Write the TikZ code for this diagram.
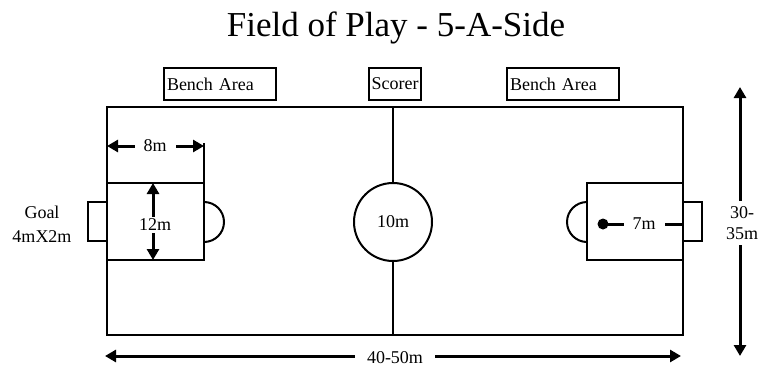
\documentclass[tikz,border=0pt]{standalone}
\usepackage{fontspec}
\setmainfont{Liberation Serif}
\usetikzlibrary{arrows.meta}
\tikzset{
  pitch/.style={line width=2pt},
  dimarrow/.style={line width=3pt,{Triangle[length=11pt,width=12pt]}-{Triangle[length=11pt,width=12pt]}},
  dimtext/.style={fill=white,inner sep=2pt,font=\fontsize{18}{20}\selectfont},
  benchbox/.style={draw,line width=2pt,minimum height=32pt,inner xsep=3pt,font=\fontsize{18}{20}\selectfont}
}
\begin{document}
\begin{tikzpicture}[x=1pt,y=-1pt]
\useasboundingbox (0,0) rectangle (761,367);
% title and boxes above the pitch
\node[anchor=base,font=\fontsize{35}{40}\selectfont] (title) at (396,36) {Field of Play - 5-A-Side};
\node[benchbox,text width=106pt,align=left] (benchL) at (220,84) {Bench Area};
\node[benchbox] (scorer) at (395,84) {Scorer};
\node[benchbox,text width=106pt,align=left] (benchR) at (563,84) {Bench Area};
% pitch
\coordinate (nw) at (107,107);
\coordinate (se) at (683,335);
\coordinate (midN) at (393,107);
\coordinate (midS) at (393,335);
\draw[pitch] (nw) rectangle (se);
\draw[pitch] (midN)--(midS);
\node[draw,circle,pitch,fill=white,minimum size=78pt,inner sep=0pt,font=\fontsize{18}{20}\selectfont] (centre) at (393,222) {10m};
% penalty areas, arcs and goals
\draw[pitch] (107,183) rectangle (204,260);
\draw[pitch] (587,183) rectangle (683,260);
\draw[pitch] (204,202) arc[start angle=-90,end angle=90,radius=20];
\draw[pitch] (587,202) arc[start angle=-90,end angle=-270,radius=20];
\draw[pitch,fill=white] (88,202) rectangle (107,241);
\draw[pitch,fill=white] (683,202) rectangle (702,241);
\node[align=center,font=\fontsize{18}{24}\selectfont] (goal) at (42,224) {Goal\\4mX2m};
% dimensions
\coordinate (eightL) at (107,146);
\coordinate (eightR) at (204,146);
\draw[pitch] (204,143)--(204,183);
\draw[dimarrow] (eightL)--(eightR);
\node[dimtext,inner xsep=9pt] (eight) at (155,146) {8m};
\coordinate (twelveT) at (153,183);
\coordinate (twelveB) at (153,260);
\draw[dimarrow] (twelveT)--(twelveB);
\node[dimtext] (twelve) at (155,225) {12m};
\coordinate (spot) at (603,224);
\coordinate (goalline) at (683,224);
\fill (spot) circle[radius=5.5pt];
\draw[line width=3pt] (spot)--(goalline);
\node[dimtext,inner xsep=9pt] (seven) at (644,224) {7m};
\coordinate (lenL) at (105,356);
\coordinate (lenR) at (681,356);
\draw[dimarrow] (lenL)--(lenR);
\node[dimtext,inner xsep=12pt] (length) at (395,358) {40-50m};
\coordinate (widT) at (740,87);
\coordinate (widB) at (740,356);
\draw[dimarrow] (widT)--(widB);
\node[dimtext,align=center,inner ysep=5pt,font=\fontsize{18}{21}\selectfont] (width) at (742,223) {30-\\35m};
\end{tikzpicture}
\end{document}
